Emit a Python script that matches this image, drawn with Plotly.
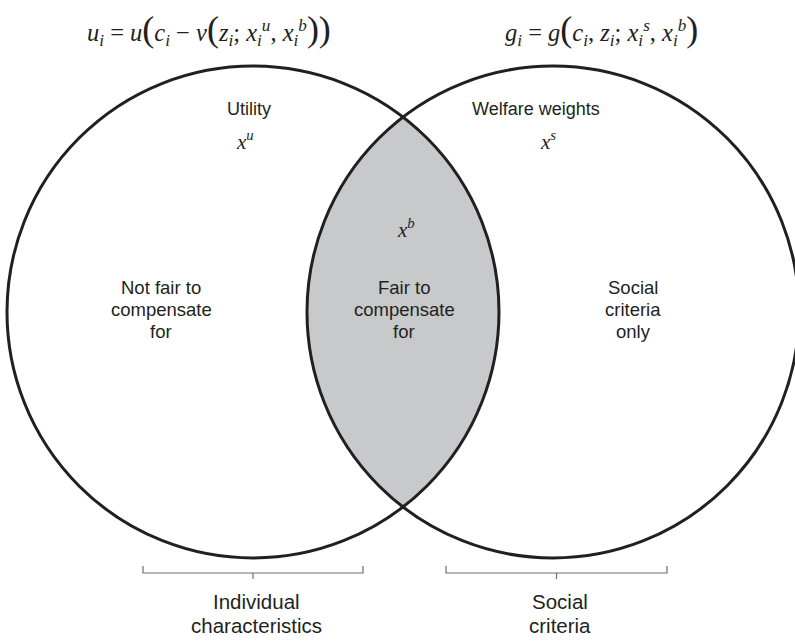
import numpy as np
import plotly.graph_objects as go

# ---- content ----
circle_titles = ["Utility", "Welfare weights"]
circle_vars = ["x<sup>u</sup>", "x<sup>s</sup>"]
shared_var = "x<sup>b</sup>"
region_lines = [
    ["Not fair to", "compensate", "for"],
    ["Fair to", "compensate", "for"],
    ["Social", "criteria", "only"],
]
group_lines = [
    ["Individual", "characteristics"],
    ["Social", "criteria"],
]
big = "<span style='font-size:36px'>%s</span>"
formulas = [
    "<i>u<sub>i</sub></i> = <i>u</i>" + big % "(" + "<i>c<sub>i</sub></i> − <i>v</i>" + big % "("
    + "<i>z<sub>i</sub></i>; <i>x<sub>i</sub><sup>u</sup></i>, <i>x<sub>i</sub><sup>b</sup></i>" + big % "))",
    "<i>g<sub>i</sub></i> = <i>g</i>" + big % "(" + "<i>c<sub>i</sub></i>, <i>z<sub>i</sub></i>; "
    "<i>x<sub>i</sub><sup>s</sup></i>, <i>x<sub>i</sub><sup>b</sup></i>" + big % ")",
]

# ---- geometry (pixel-like data coordinates) ----
W, H = 795, 641
centers_x = [253, 553]
center_y = 312
radius = 246
ink = "#231f20"
gray = "#c8c9cb"

fig = go.Figure()

# lens fill
d = (centers_x[1] - centers_x[0]) / 2
th = np.arccos(d / radius)
t1 = np.linspace(-th, th, 120)
xa = centers_x[0] + radius * np.cos(t1)
ya = center_y + radius * np.sin(t1)
t2 = np.linspace(np.pi + th, np.pi - th, 120)
xb = centers_x[1] + radius * np.cos(t2)
yb = center_y + radius * np.sin(t2)
fig.add_trace(go.Scatter(
    x=np.concatenate([xa, xb]),
    y=np.concatenate([ya, yb]),
    fill="toself", fillcolor=gray, mode="lines", line=dict(width=0),
    hoverinfo="skip", showlegend=False))

for cx in centers_x:
    fig.add_shape(type="circle", x0=cx - radius, x1=cx + radius,
                  y0=center_y - radius, y1=center_y + radius,
                  line=dict(color=ink, width=3), layer="above")

sans = "Liberation Sans, Arial, sans-serif"
serif = "Liberation Serif, Times New Roman, serif"

def ann(x, y, text, size, font=sans, color="#231f20"):
    fig.add_annotation(x=x, y=y, text=text, showarrow=False,
                       xanchor="center", yanchor="middle",
                       font=dict(family=font, size=size, color=color))

# formulas
formula_x = [209, 601]
for fx, t in zip(formula_x, formulas):
    ann(fx, 29, t, 24.5, serif)

# circle titles and variables
title_x = [249, 536]
var_x = [245, 548]
for tx, vx, t, v in zip(title_x, var_x, circle_titles, circle_vars):
    ann(tx, 109, t, 18)
    ann(vx, 140, "<i>" + v + "</i>", 21, serif)
ann(406, 228, "<i>" + shared_var + "</i>", 21, serif)

# region labels
region_x = [161, 404, 633]
for rx, lines in zip(region_x, region_lines):
    for k, line in enumerate(lines):
        ann(rx, 287 + 22 * k, line, 18.5)

# brackets
brackets = [(143, 363), (446, 667)]
bc = "#6d6e71"
for (a, b), lines in zip(brackets, group_lines):
    m = (a + b) / 2
    fig.add_shape(type="path",
                  path=f"M {a} 566 L {a} 573 L {b} 573 L {b} 566",
                  line=dict(color=bc, width=1.2))
    fig.add_shape(type="line", x0=m, x1=m, y0=573, y1=579,
                  line=dict(color=bc, width=1.2))
    for k, line in enumerate(lines):
        ann(m + 3, 601 + 24 * k, line, 20.5)

fig.update_xaxes(range=[0, W], visible=False, fixedrange=True)
fig.update_yaxes(range=[H, 0], visible=False, fixedrange=True)
fig.update_layout(width=W, height=H, margin=dict(l=0, r=0, t=0, b=0),
                  plot_bgcolor="white", paper_bgcolor="white", showlegend=False)
fig.write_html("out.html", config={"displayModeBar": False})

# remove the default page margin so the figure fills the window exactly
with open("out.html", "r", encoding="utf-8") as f:
    html = f.read()
html = html.replace("<head>", "<head><style>html,body{margin:0;padding:0;overflow:hidden}</style>", 1)
with open("out.html", "w", encoding="utf-8") as f:
    f.write(html)
